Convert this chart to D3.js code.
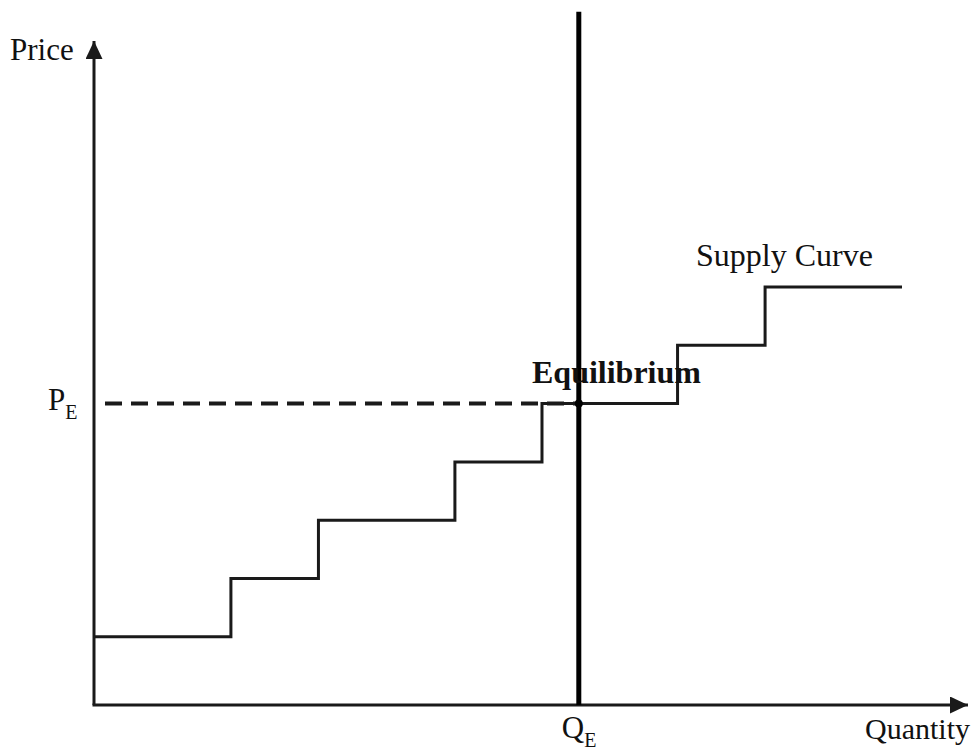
<!DOCTYPE html>
<html>
<head>
<meta charset="utf-8">
<script src="https://cdn.jsdelivr.net/npm/d3@7"></script>
<style>
html,body{margin:0;padding:0;background:#fff;}
svg{display:block;}
text{font-family:"Liberation Serif","Times New Roman",serif;fill:#111;}
</style>
</head>
<body>
<svg id="chart" width="979" height="753"></svg>
<script>
// ---- data ----
const stepQuantities = [0, 3.05, 5.0, 8.04, 9.98, 13.0, 14.95, 18]; // step break points (quantity)
const stepPrices = [1.17, 2.17, 3.17, 4.17, 5.17, 6.17, 7.17];      // price level of each step
const equilibriumQ = 10.8;
const equilibriumP = 5.17;
const axisLabels = ["Price", "Quantity"];
const markLabels = ["Supply Curve", "Equilibrium"];

// ---- scales ----
const x = d3.scaleLinear().domain([0, 18]).range([94, 902]);
const y = d3.scaleLinear().domain([0, 7]).range([705, 705 - 7 * 58.3]);
const xMax = 19.47, yMax = 11.39, vTop = 11.89;

const svg = d3.select("#chart");
const ink = "#1a1a1a";

// arrow markers
const defs = svg.append("defs");
defs.append("marker").attr("id", "arrow").attr("viewBox", "0 0 18 17")
  .attr("refX", 18).attr("refY", 8.5).attr("markerWidth", 18).attr("markerHeight", 17)
  .attr("markerUnits", "userSpaceOnUse").attr("orient", "auto")
  .append("path").attr("d", "M0,0 L18,8.5 L0,17 Z").attr("fill", ink);

// axes
svg.append("line").attr("x1", x(0)).attr("y1", y(0)).attr("x2", x(0)).attr("y2", y(yMax))
  .attr("stroke", ink).attr("stroke-width", 3).attr("marker-end", "url(#arrow)");
svg.append("line").attr("x1", x(0) - 1.5).attr("y1", y(0)).attr("x2", x(xMax)).attr("y2", y(0))
  .attr("stroke", ink).attr("stroke-width", 3).attr("marker-end", "url(#arrow)");

// dashed price line
svg.append("line").attr("x1", x(0) + 11).attr("y1", y(equilibriumP)).attr("x2", x(equilibriumQ)).attr("y2", y(equilibriumP))
  .attr("stroke", ink).attr("stroke-width", 4).attr("stroke-dasharray", "17,9");

// supply step curve
const pts = [];
stepPrices.forEach((p, i) => {
  pts.push([stepQuantities[i], p]);
  pts.push([stepQuantities[i + 1], p]);
});
const line = d3.line().x(d => x(d[0])).y(d => y(d[1])).curve(d3.curveLinear);
svg.append("path").attr("d", line(pts)).attr("fill", "none")
  .attr("stroke", ink).attr("stroke-width", 3).attr("stroke-linejoin", "miter");

// vertical demand line
svg.append("line").attr("x1", x(equilibriumQ)).attr("y1", y(0)).attr("x2", x(equilibriumQ)).attr("y2", y(vTop))
  .attr("stroke", "#000").attr("stroke-width", 5);

// equilibrium point
svg.append("circle").attr("cx", x(equilibriumQ)).attr("cy", y(equilibriumP)).attr("r", 4).attr("fill", "#000");

// labels
svg.append("text").attr("x", 10).attr("y", 60).attr("font-size", 31).text(axisLabels[0]);
svg.append("text").attr("x", 865).attr("y", 739).attr("font-size", 30).text(axisLabels[1]);
svg.append("text").attr("x", 696).attr("y", 266).attr("font-size", 32).text(markLabels[0]);
svg.append("text").attr("x", 532).attr("y", 383).attr("font-size", 32).attr("font-weight", "bold").text(markLabels[1]);

const pe = svg.append("text").attr("x", 48).attr("y", y(equilibriumP) + 6).attr("font-size", 31);
pe.append("tspan").text("P");
pe.append("tspan").attr("font-size", 20).attr("dy", 9).text("E");

const qe = svg.append("text").attr("x", x(equilibriumQ) - 17).attr("y", 738).attr("font-size", 31);
qe.append("tspan").text("Q");
qe.append("tspan").attr("font-size", 20).attr("dy", 9).text("E");
</script>
</body>
</html>
